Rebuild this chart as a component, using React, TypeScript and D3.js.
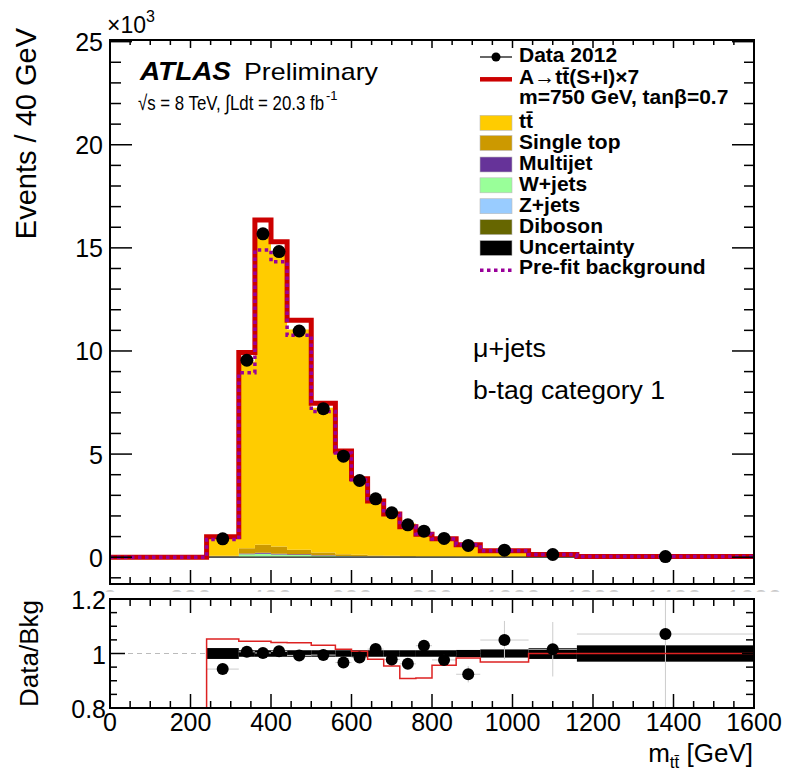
import React from "react";
import * as d3 from "d3";

// ---------------- data ----------------
const binEdges = [0, 240, 320, 360, 400, 440, 500, 560, 600, 640, 680, 720, 760, 800, 860, 920, 1040, 1160, 1600];
const dataValues = [0, 0.89, 9.55, 15.68, 14.82, 10.97, 7.2, 4.9, 3.72, 2.83, 2.15, 1.57, 1.26, 0.91, 0.57, 0.34, 0.13, 0.03];
const ttbar = [0, 0.88, 9.06, 15.05, 14.18, 10.69, 7.02, 4.92, 3.66, 2.7, 2.13, 1.58, 1.19, 0.9, 0.6, 0.31, 0.123, 0.027];
const singleTop = [0, 0.03, 0.25, 0.38, 0.35, 0.22, 0.13, 0.09, 0.07, 0.05, 0.04, 0.03, 0.02, 0.02, 0.01, 0.01, 0.004, 0.001];
const multijet = [0, 0.01, 0.04, 0.05, 0.04, 0.03, 0.02, 0.01, 0.01, 0.01, 0.005, 0.004, 0.003, 0.002, 0.001, 0.001, 0, 0];
const wjets = [0, 0.02, 0.12, 0.14, 0.11, 0.09, 0.06, 0.04, 0.03, 0.02, 0.02, 0.015, 0.01, 0.008, 0.005, 0.003, 0.001, 0];
const zjets = [0, 0.003, 0.015, 0.02, 0.015, 0.012, 0.008, 0.005, 0.004, 0.003, 0.002, 0.002, 0.001, 0.001, 0.001, 0, 0, 0];
const diboson = [0, 0.001, 0.006, 0.008, 0.007, 0.005, 0.004, 0.003, 0.002, 0.002, 0.001, 0.001, 0.001, 0.001, 0, 0, 0, 0];
const signalX7 = [0, 0.05, 0.43, 0.7, 0.59, 0.44, 0.22, 0.08, 0.03, -0.06, -0.1, -0.15, -0.11, -0.04, -0.01, -0.01, 0, 0];
const preFit = [0, 0.86, 8.95, 14.9, 14.33, 10.76, 7.07, 5.05, 3.75, 2.72, 2.1, 1.5, 1.12, 0.88, 0.6, 0.31, 0.13, 0.03];
const bkgRelUnc = [0, 0.02, 0.012, 0.012, 0.012, 0.012, 0.012, 0.012, 0.012, 0.012, 0.012, 0.012, 0.012, 0.012, 0.013, 0.015, 0.02, 0.03];
const dataRelErr = [0, 0.015, 0.006, 0.005, 0.005, 0.006, 0.007, 0.009, 0.01, 0.012, 0.014, 0.016, 0.018, 0.02, 0.03, 0.07, 0.1, 0.3];

const xMajorTicks = [0, 200, 400, 600, 800, 1000, 1200, 1400, 1600];
const yMajorTicks = [0, 5, 10, 15, 20, 25];
const rMajorTicks = [0.8, 1, 1.2];
const rTickLabels = ["0.8", "1", "1.2"];

const legendEntries = [
  { label: "Data 2012", kind: "marker" },
  { label: "A\u2192tt\u0304(S+I)\u00d77", kind: "redline" },
  { label: "m=750 GeV, tan\u03b2=0.7", kind: "none" },
  { label: "tt\u0304", kind: "box", color: "#ffcc00" },
  { label: "Single top", kind: "box", color: "#cc9900" },
  { label: "Multijet", kind: "box", color: "#663399" },
  { label: "W+jets", kind: "box", color: "#99ff99" },
  { label: "Z+jets", kind: "box", color: "#99ccff" },
  { label: "Diboson", kind: "box", color: "#666600" },
  { label: "Uncertainty", kind: "box", color: "#000000" },
  { label: "Pre-fit background", kind: "dotted" },
];
const legendBaselines = [62, 84.3, 104, 128.3, 148.5, 170, 190.8, 211.7, 232.7, 253.5, 274.3];

const stackKeys = ["diboson", "zjets", "wjets", "multijet", "singleTop", "ttbar"];
const stackColors: Record<string, string> = {
  ttbar: "#ffcc00",
  singleTop: "#cc9900",
  multijet: "#663399",
  wjets: "#99ff99",
  zjets: "#99ccff",
  diboson: "#666600",
};

// ---------------- layout ----------------
const W = 786;
const H = 774;
const L = 110;
const R = 754;
const mainTop = 40;
const mainBottom = 584;
const ratTop = 599;
const ratBottom = 708;
const FONT = "'Liberation Sans', Arial, Helvetica, sans-serif";

export default function App() {
  const x = d3.scaleLinear().domain([0, 1600]).range([L, R]);
  const y = d3.scaleLinear().domain([-1.3, 25.08]).range([mainBottom, mainTop]);
  const yr = d3.scaleLinear().domain([0.8, 1.2]).range([ratBottom, ratTop]);

  const nb = binEdges.length - 1;
  const rows = d3.range(nb).map((i) => ({
    ttbar: ttbar[i],
    singleTop: singleTop[i],
    multijet: multijet[i],
    wjets: wjets[i],
    zjets: zjets[i],
    diboson: diboson[i],
  }));
  const bkg = rows.map((r) => stackKeys.reduce((s, k) => s + (r as any)[k], 0));
  const sigPlusBkg = bkg.map((b, i) => b + signalX7[i]);
  const series = d3.stack<any>().keys(stackKeys)(rows);

  const area = d3
    .area<[number, number, number]>()
    .x((p) => x(p[0]))
    .y0((p) => y(p[1]))
    .y1((p) => y(p[2]));
  const line = d3
    .line<[number, number]>()
    .x((p) => x(p[0]))
    .y((p) => y(p[1]));
  const rline = d3
    .line<[number, number]>()
    .x((p) => x(p[0]))
    .y((p) => yr(Math.max(0.8, Math.min(1.2, p[1]))));

  const stepPts = (vals: number[]): [number, number][] => {
    const pts: [number, number][] = [];
    vals.forEach((v, i) => {
      pts.push([binEdges[i], v]);
      pts.push([binEdges[i + 1], v]);
    });
    return pts;
  };

  const centers = d3.range(nb).map((i) => (binEdges[i] + binEdges[i + 1]) / 2);
  const ratioData = dataValues.map((d, i) => (bkg[i] > 0 ? d / bkg[i] : NaN));
  const ratioRed = sigPlusBkg.map((s, i) => (bkg[i] > 0 ? s / bkg[i] : 0));

  const xMinor = d3.range(0, 1601, 50).filter((v) => v % 200 !== 0);
  const yMinor = d3.range(-1, 26, 1).filter((v) => v % 5 !== 0);
  const rMinor = d3.range(0.8, 1.2001, 0.05).filter((v) => Math.abs(v - 0.8) > 1e-6 && Math.abs(v - 1) > 1e-6 && Math.abs(v - 1.2) > 1e-6);

  const tick = { stroke: "#000", strokeWidth: 1.5 };

  return (
    <svg
      width={W}
      height={H}
      viewBox={`0 0 ${W} ${H}`}
      style={{ position: "absolute", left: 0, top: 0, background: "#fff", fontFamily: FONT }}
    >
      <defs>
        <clipPath id="mainClip">
          <rect x={L} y={mainTop} width={R - L} height={mainBottom - mainTop} />
        </clipPath>
        <clipPath id="ratClip">
          <rect x={L} y={ratTop} width={R - L} height={ratBottom - ratTop} />
        </clipPath>
        <clipPath id="stripClip">
          <rect x={0} y={590} width={W} height={1.8} />
        </clipPath>
      </defs>
      <rect x={0} y={0} width={W} height={H} fill="#fff" />

      {/* ---------- main panel ---------- */}
      <g clipPath="url(#mainClip)">
        {series.map((s) => {
          const pts: [number, number, number][] = [];
          s.forEach((d, i) => {
            pts.push([binEdges[i], d[0], d[1]]);
            pts.push([binEdges[i + 1], d[0], d[1]]);
          });
          return <path key={s.key} d={area(pts) || ""} fill={stackColors[s.key]} stroke="none" />;
        })}
        <line x1={x(240)} x2={x(1600)} y1={y(0)} y2={y(0)} stroke="#222" strokeWidth={1.2} />
        <path d={line(stepPts(sigPlusBkg)) || ""} fill="none" stroke="#cc0000" strokeWidth={5} />
        <path
          d={line(stepPts(preFit)) || ""}
          fill="none"
          stroke="#990099"
          strokeWidth={3.5}
          strokeDasharray="3.5 3.5"
        />
        {centers.map((c, i) =>
          dataValues[i] > 0 ? <circle key={i} cx={x(c)} cy={y(dataValues[i])} r={6.5} fill="#000" /> : null
        )}
      </g>

      {/* main frame and ticks */}
      <rect x={L} y={mainTop} width={R - L} height={mainBottom - mainTop} fill="none" stroke="#000" strokeWidth={2} />
      {xMajorTicks.map((t) => (
        <g key={"mx" + t}>
          <line x1={x(t)} x2={x(t)} y1={mainBottom} y2={mainBottom - 14} {...tick} />
          <line x1={x(t)} x2={x(t)} y1={mainTop} y2={mainTop + 8} {...tick} />
        </g>
      ))}
      {xMinor.map((t) => (
        <g key={"mxm" + t}>
          <line x1={x(t)} x2={x(t)} y1={mainBottom} y2={mainBottom - 7} {...tick} />
          <line x1={x(t)} x2={x(t)} y1={mainTop} y2={mainTop + 5} {...tick} />
        </g>
      ))}
      {yMajorTicks.map((t) => (
        <g key={"my" + t}>
          <line x1={L} x2={L + 22} y1={y(t)} y2={y(t)} {...tick} />
          <line x1={R} x2={R - 22} y1={y(t)} y2={y(t)} {...tick} />
          <text x={103} y={y(t) + 9.5} textAnchor="end" fontSize={25}>
            {t}
          </text>
        </g>
      ))}
      {yMinor.map((t) => (
        <g key={"mym" + t}>
          <line x1={L} x2={L + 11} y1={y(t)} y2={y(t)} {...tick} />
          <line x1={R} x2={R - 10} y1={y(t)} y2={y(t)} {...tick} />
        </g>
      ))}
      <text x={107} y={33} fontSize={23}>
        {"\u00d710"}
        <tspan dy={-11} fontSize={16}>
          3
        </tspan>
      </text>
      <text
        x={36}
        y={28}
        fontSize={29}
        textAnchor="end"
        transform={`rotate(-90, 36, 28)`}
      >
        Events / 40 GeV
      </text>

      {/* faint clipped tops of main-pad x labels */}
      <g clipPath="url(#stripClip)">
        {xMajorTicks.map((t) => (
          <text key={"gl" + t} x={x(t)} y={608} textAnchor="middle" fontSize={25} fill="#c8c8c8">
            {t}
          </text>
        ))}
      </g>

      {/* ATLAS label */}
      <text x={140} y={80} fontSize={25} fontWeight="bold" fontStyle="italic" textLength={91} lengthAdjust="spacingAndGlyphs">
        ATLAS
      </text>
      <text x={244} y={80} fontSize={24} textLength={134} lengthAdjust="spacingAndGlyphs">
        Preliminary
      </text>
      <text x={138} y={110} fontSize={21} textLength={186} lengthAdjust="spacingAndGlyphs">
        {"\u221as = 8 TeV, \u222bLdt = 20.3 fb"}
      </text>
      <text x={326} y={100} fontSize={13}>
        -1
      </text>

      <text x={473} y={357} fontSize={25} textLength={73} lengthAdjust="spacingAndGlyphs">
        {"\u03bc+jets"}
      </text>
      <text x={473} y={399} fontSize={25} textLength={192} lengthAdjust="spacingAndGlyphs">
        b-tag category 1
      </text>

      {/* legend */}
      {legendEntries.map((e, i) => {
        const b = legendBaselines[i];
        let sym: React.ReactNode = null;
        if (e.kind === "marker") {
          sym = (
            <g>
              <line x1={480} x2={512} y1={b - 5} y2={b - 5} stroke="#000" strokeWidth={1.2} />
              <circle cx={496} cy={b - 5} r={4.5} fill="#000" />
            </g>
          );
        } else if (e.kind === "redline") {
          sym = <line x1={480} x2={512} y1={b - 5} y2={b - 5} stroke="#cc0000" strokeWidth={4.5} />;
        } else if (e.kind === "box") {
          sym = <rect x={480} y={b - 13} width={32} height={15} fill={e.color} stroke="#bbb" strokeWidth={0.6} />;
        } else if (e.kind === "dotted") {
          sym = (
            <line x1={480} x2={512} y1={b - 4} y2={b - 4} stroke="#990099" strokeWidth={3.5} strokeDasharray="3.5 3.5" />
          );
        }
        return (
          <g key={"lg" + i}>
            {sym}
            <text x={519} y={b} fontSize={21} fontWeight="bold">
              {e.label}
            </text>
          </g>
        );
      })}

      {/* ---------- ratio panel ---------- */}
      <g clipPath="url(#ratClip)">
        <line x1={L} x2={R} y1={yr(1)} y2={yr(1)} stroke="#bbb" strokeWidth={1} strokeDasharray="5 4" />
        {centers.map((c, i) =>
          bkg[i] > 0 ? (
            <rect
              key={"band" + i}
              x={x(binEdges[i])}
              width={x(binEdges[i + 1]) - x(binEdges[i])}
              y={yr(1 + bkgRelUnc[i])}
              height={yr(1 - bkgRelUnc[i]) - yr(1 + bkgRelUnc[i])}
              fill="#000"
            />
          ) : null
        )}
        {centers.map((c, i) =>
          bkg[i] > 0 ? (
            <g key={"err" + i}>
              <line
                x1={x(binEdges[i])}
                x2={x(binEdges[i + 1])}
                y1={yr(ratioData[i])}
                y2={yr(ratioData[i])}
                stroke="#ccc"
                strokeWidth={1}
              />
              <line
                x1={x(c)}
                x2={x(c)}
                y1={yr(ratioData[i] - dataRelErr[i])}
                y2={yr(ratioData[i] + dataRelErr[i])}
                stroke="#ccc"
                strokeWidth={1}
              />
            </g>
          ) : null
        )}
        <path d={rline(stepPts(ratioRed)) || ""} fill="none" stroke="#dd2222" strokeWidth={1.5} />
        {centers.map((c, i) =>
          bkg[i] > 0 ? <circle key={"rp" + i} cx={x(c)} cy={yr(ratioData[i])} r={6} fill="#000" /> : null
        )}
      </g>
      <rect x={L} y={ratTop} width={R - L} height={ratBottom - ratTop} fill="none" stroke="#000" strokeWidth={2} />
      {xMajorTicks.map((t) => (
        <g key={"rx" + t}>
          <line x1={x(t)} x2={x(t)} y1={ratBottom} y2={ratBottom - 14} {...tick} />
          <line x1={x(t)} x2={x(t)} y1={ratTop} y2={ratTop + 14} {...tick} />
          <text x={x(t)} y={731} textAnchor="middle" fontSize={25}>
            {t}
          </text>
        </g>
      ))}
      {xMinor.map((t) => (
        <g key={"rxm" + t}>
          <line x1={x(t)} x2={x(t)} y1={ratBottom} y2={ratBottom - 7} {...tick} />
          <line x1={x(t)} x2={x(t)} y1={ratTop} y2={ratTop + 7} {...tick} />
        </g>
      ))}
      {rMajorTicks.map((t, i) => (
        <g key={"ry" + t}>
          <line x1={L} x2={L + 15} y1={yr(t)} y2={yr(t)} {...tick} />
          <line x1={R} x2={R - 12} y1={yr(t)} y2={yr(t)} {...tick} />
          <text x={106} y={yr(t) + 10} textAnchor="end" fontSize={25}>
            {rTickLabels[i]}
          </text>
        </g>
      ))}
      {rMinor.map((t) => (
        <g key={"rym" + t}>
          <line x1={L} x2={L + 7} y1={yr(t)} y2={yr(t)} {...tick} />
          <line x1={R} x2={R - 8} y1={yr(t)} y2={yr(t)} {...tick} />
        </g>
      ))}
      <text x={38} y={600} fontSize={26} textAnchor="end" transform={`rotate(-90, 38, 600)`}>
        Data/Bkg
      </text>
      <text x={753} y={762} fontSize={26} textAnchor="end">
        m
        <tspan fontSize={17} dy={6}>
          {"tt\u0304"}
        </tspan>
        <tspan dy={-6}> [GeV]</tspan>
      </text>
    </svg>
  );
}
